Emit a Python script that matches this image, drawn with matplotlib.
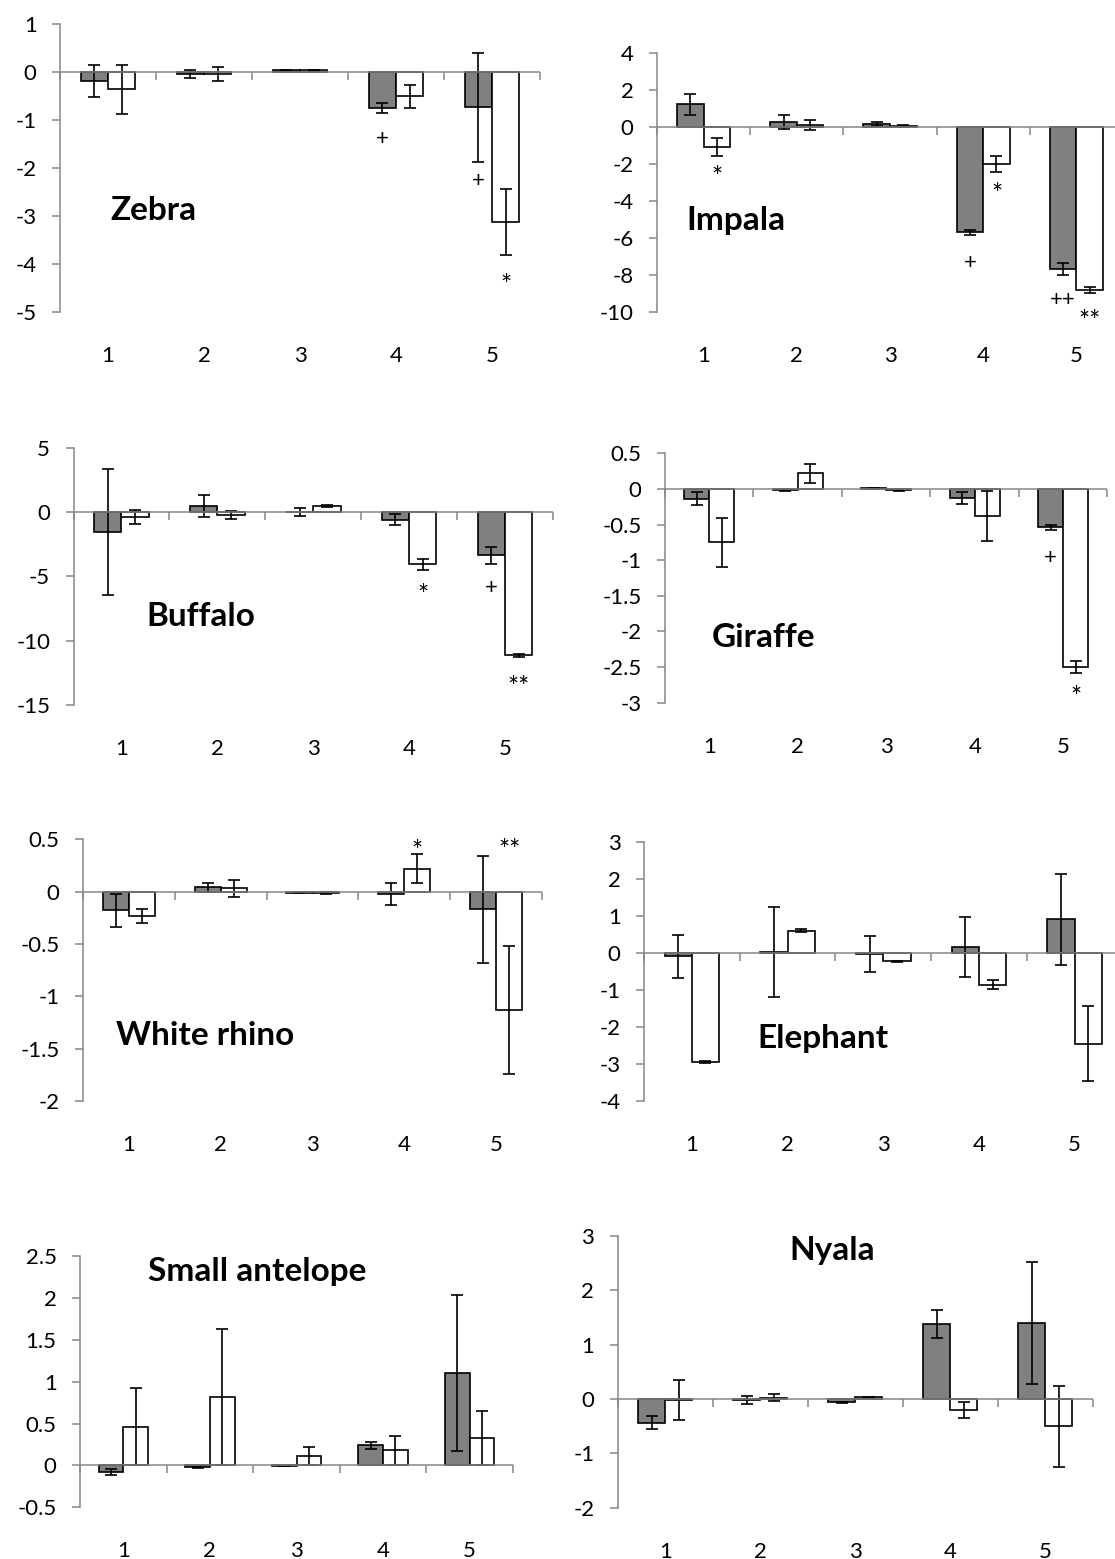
import numpy as np
import matplotlib.pyplot as plt
from matplotlib import markers

plt.rcParams['font.family'] = ['Lato', 'DejaVu Sans']

# categories on the x axis
categories = [1, 2, 3, 4, 5]

# species panels: grey bars / white bars and their error bars
zebra_gray = [-0.18, -0.03, 0.04, -0.74, -0.73]
zebra_gray_err = [0.33, 0.08, 0.01, 0.11, 1.14]
zebra_white = [-0.35, -0.04, 0.04, -0.50, -3.12]
zebra_white_err = [0.51, 0.15, 0.01, 0.24, 0.68]

impala_gray = [1.22, 0.27, 0.15, -5.68, -7.66]
impala_gray_err = [0.57, 0.36, 0.09, 0.14, 0.33]
impala_white = [-1.08, 0.09, 0.05, -2.01, -8.81]
impala_white_err = [0.49, 0.26, 0.03, 0.43, 0.15]

buffalo_gray = [-1.55, 0.45, -0.02, -0.60, -3.37]
buffalo_gray_err = [4.90, 0.87, 0.32, 0.44, 0.65]
buffalo_white = [-0.37, -0.26, 0.50, -4.06, -11.14]
buffalo_white_err = [0.55, 0.32, 0.08, 0.43, 0.10]

giraffe_gray = [-0.14, -0.02, 0.01, -0.13, -0.54]
giraffe_gray_err = [0.09, 0.01, 0.005, 0.08, 0.03]
giraffe_white = [-0.75, 0.22, -0.02, -0.38, -2.50]
giraffe_white_err = [0.34, 0.13, 0.005, 0.35, 0.08]

rhino_gray = [-0.18, 0.04, -0.01, -0.02, -0.17]
rhino_gray_err = [0.16, 0.045, 0.005, 0.105, 0.51]
rhino_white = [-0.23, 0.03, -0.01, 0.22, -1.13]
rhino_white_err = [0.065, 0.08, 0.01, 0.135, 0.61]

elephant_gray = [-0.09, 0.03, -0.02, 0.15, 0.90]
elephant_gray_err = [0.58, 1.21, 0.485, 0.81, 1.23]
elephant_white = [-2.95, 0.60, -0.23, -0.86, -2.45]
elephant_white_err = [0.02, 0.04, 0.02, 0.12, 1.01]

antelope_gray = [-0.08, -0.02, -0.005, 0.24, 1.10]
antelope_gray_err = [0.035, 0.005, 0.002, 0.04, 0.93]
antelope_white = [0.46, 0.82, 0.107, 0.18, 0.327]
antelope_white_err = [0.46, 0.81, 0.107, 0.175, 0.32]

nyala_gray = [-0.435, -0.02, -0.06, 1.38, 1.40]
nyala_gray_err = [0.12, 0.08, 0.01, 0.255, 1.13]
nyala_white = [-0.02, 0.025, 0.03, -0.20, -0.50]
nyala_white_err = [0.37, 0.07, 0.01, 0.15, 0.745]

# significance marks: (category, series, symbol, y)
zebra_marks = [(4, 'g', '+', -1.35), (5, 'g', '+', -2.23), (5, 'w', '*', -4.3)]
impala_marks = [(1, 'w', '*', -2.34), (4, 'g', '+', -7.28), (4, 'w', '*', -3.29),
                (5, 'g', '++', -9.26), (5, 'w', '**', -10.12)]
buffalo_marks = [(4, 'w', '*', -5.95), (5, 'g', '+', -5.77), (5, 'w', '**', -13.09)]
giraffe_marks = [(5, 'g', '+', -0.955), (5, 'w', '*', -2.83)]
rhino_marks = [(4, 'w', '*', 0.45), (5, 'w', '**', 0.455)]

panels = [
    ('Zebra', zebra_gray, zebra_gray_err, zebra_white, zebra_white_err, zebra_marks),
    ('Impala', impala_gray, impala_gray_err, impala_white, impala_white_err, impala_marks),
    ('Buffalo', buffalo_gray, buffalo_gray_err, buffalo_white, buffalo_white_err, buffalo_marks),
    ('Giraffe', giraffe_gray, giraffe_gray_err, giraffe_white, giraffe_white_err, giraffe_marks),
    ('White rhino', rhino_gray, rhino_gray_err, rhino_white, rhino_white_err, rhino_marks),
    ('Elephant', elephant_gray, elephant_gray_err, elephant_white, elephant_white_err, []),
    ('Small antelope', antelope_gray, antelope_gray_err, antelope_white, antelope_white_err, []),
    ('Nyala', nyala_gray, nyala_gray_err, nyala_white, nyala_white_err, []),
]

# layout in pixels: x0, x1, y_top, y_bottom, ymin, ymax, ystep, label x/y (data)
layout = [
    (60, 540, 24.3, 312.3, -5, 1, 1, 1.02, -2.88),
    (657, 1123, 52.7, 312.3, -10, 4, 2, 0.82, -5.04),
    (73.5, 553, 447.7, 705, -15, 5, 5, 1.26, -8.1),
    (665, 1107.5, 453.3, 702.7, -3, 0.5, 0.5, 1.03, -2.08),
    (83, 542, 839.3, 1101, -2, 0.5, 0.5, 0.86, -1.37),
    (644, 1122.5, 841.7, 1101, -4, 3, 1, 1.68, -2.31),
    (80, 513, 1256, 1507.3, -0.5, 2.5, 0.5, 1.28, 2.32),
    (617.7, 1092.7, 1236, 1507.7, -2, 3, 1, 2.31, 2.74),
]

W, H = 1115, 1559
axis_gray = '#868686'
bw = 0.285
mark_size = {'+': 16, '++': 16, '*': 19, '**': 19}
mark_offset = {'+': -5.4, '++': -5.4, '*': -11.0, '**': -11.0}

fig = plt.figure(figsize=(W / 100, H / 100), dpi=100)

for (name, g, ge, w, we, marks), (x0, x1, yt, yb, ymin, ymax, ystep, lx, ly) in zip(panels, layout):
    ax = fig.add_axes([x0 / W, 1 - yb / H, (x1 - x0) / W, (yb - yt) / H])
    x = np.array(categories, dtype=float)

    ax.bar(x - bw / 2, g, bw, color='#808080', edgecolor='black', linewidth=1.2, zorder=2)
    ax.bar(x + bw / 2, w, bw, color='white', edgecolor='black', linewidth=1.2, zorder=2)
    ax.errorbar(x - bw / 2, g, yerr=ge, fmt='none', ecolor='black', elinewidth=1.2,
                capsize=4.5, capthick=1.2, zorder=3)
    ax.errorbar(x + bw / 2, w, yerr=we, fmt='none', ecolor='black', elinewidth=1.2,
                capsize=4.5, capthick=1.2, zorder=3)

    # category axis at zero with boundary ticks
    ax.axhline(0, color=axis_gray, linewidth=1.1, zorder=4)
    bounds = np.arange(0.5, len(categories) + 1, 1.0)
    ax.plot(bounds, np.zeros_like(bounds), ls='none', marker=markers.TICKDOWN, ms=5.8,
            mew=1.1, color=axis_gray, zorder=4, clip_on=False)

    ax.set_xlim(0.5, len(categories) + 0.5)
    ax.set_ylim(ymin, ymax)
    ax.set_yticks(np.arange(ymin, ymax + ystep / 2, ystep))
    ax.yaxis.set_major_formatter(plt.FuncFormatter(lambda v, _: f'{v + 0.0:g}'))
    ax.set_xticks(categories)
    ax.set_xticklabels([str(c) for c in categories])

    for s in ['top', 'right', 'bottom']:
        ax.spines[s].set_visible(False)
    ax.spines['left'].set_color(axis_gray)
    ax.spines['left'].set_linewidth(1.1)
    ax.tick_params(axis='y', direction='out', length=5.8, width=1.1, color=axis_gray,
                   labelsize=16, pad=11)
    ax.tick_params(axis='x', length=0, labelsize=16, pad=24.5)
    ax.patch.set_alpha(0)

    ax.text(lx, ly, name, fontsize=24, fontweight='bold', ha='left', va='center')

    for cat, ser, sym, yv in marks:
        xm = cat - bw / 2 if ser == 'g' else cat + bw / 2
        ax.annotate(sym, xy=(xm, yv), xytext=(0, mark_offset[sym]), textcoords='offset points',
                    ha='center', va='baseline', fontsize=mark_size[sym], annotation_clip=False)

fig.savefig('out.png', dpi=100)
